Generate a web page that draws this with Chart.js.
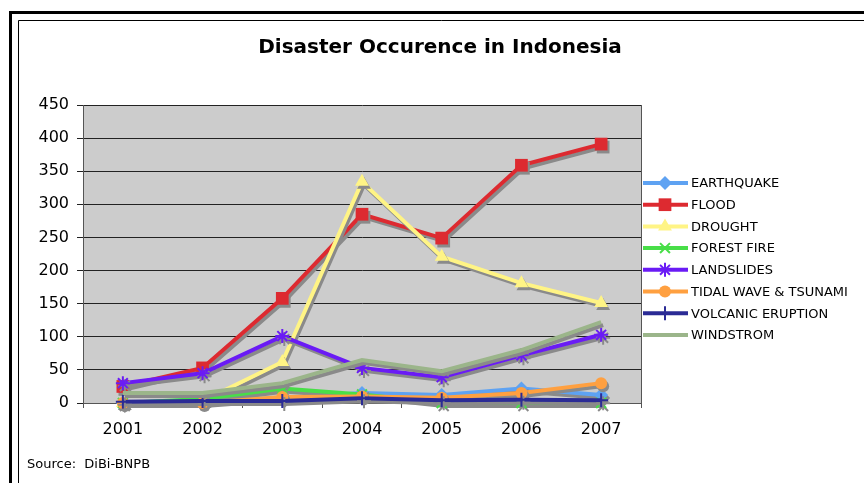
<!DOCTYPE html>
<html>
<head>
<meta charset="utf-8">
<script src="https://cdn.jsdelivr.net/npm/chart.js@4"></script>
<style>
  html, body { margin: 0; padding: 0; background: #fff; }
  #wrap { width: 864px; height: 483px; }
</style>
</head>
<body>
<div id="wrap"><canvas id="disasters" width="864" height="483"></canvas></div>
<script>
var years = ["2001", "2002", "2003", "2004", "2005", "2006", "2007"];
var earthquake = [0, 5, 7, 15, 12, 22, 12];
var flood = [25, 53, 158, 285, 249, 359, 391];
var drought = [0, 3, 62, 334, 221, 181, 151];
var forestFire = [0, 6, 22, 13, 0, 0, 0];
var landslides = [30, 45, 101, 53, 39, 72, 103];
var tidalWave = [0, 0, 9, 10, 8, 15, 30];
var volcanic = [2, 3, 3, 7, 4, 5, 4];
var windstrom = [15, 15, 30, 65, 48, 80, 122];

function series(label, values, color, style, radius, order) {
  // filled markers get no outline, line markers (star, crosses) need one
  var stroked = ["star", "cross", "crossRot"].indexOf(style) >= 0;
  return {
    label: label,
    data: values,
    borderColor: color,
    backgroundColor: color,
    pointBackgroundColor: color,
    pointBorderColor: color,
    pointStyle: style,
    pointRadius: radius,
    pointBorderWidth: stroked ? 2 : 0,
    borderWidth: 4,
    tension: 0,
    clip: false,
    order: order,
  };
}

const data_disasters = {
  labels: years,
  datasets: [
    series("EARTHQUAKE", earthquake, "#5ea2f2", "rectRot", 7, 7),
    series("FLOOD", flood, "#dd2a30", "rect", 9, 6),
    series("DROUGHT", drought, "#fff485", "triangle", 8, 5),
    series("FOREST FIRE", forestFire, "#48de48", "crossRot", 7, 4),
    series("LANDSLIDES", landslides, "#6a1bf5", "star", 7, 3),
    series("TIDAL WAVE & TSUNAMI", tidalWave, "#ffa040", "circle", 6, 2),
    series("VOLCANIC ERUPTION", volcanic, "#2b2b95", "cross", 7, 1),
    series("WINDSTROM", windstrom, "#9bb58a", "circle", 0, 0),
  ],
};

// frame, title, gray plot area, shadows, legend and source note
const decorations = {
  id: "decorations",
  beforeDraw(chart) {
    const ctx = chart.ctx;
    const a = chart.chartArea;
    ctx.save();
    ctx.fillStyle = "#fff";
    ctx.fillRect(0, 0, chart.width, chart.height);
    ctx.strokeStyle = "#000";
    ctx.lineWidth = 3;
    ctx.beginPath();
    ctx.moveTo(10.5, chart.height + 5);
    ctx.lineTo(10.5, 12.5);
    ctx.lineTo(chart.width + 5, 12.5);
    ctx.stroke();
    ctx.lineWidth = 1;
    ctx.beginPath();
    ctx.moveTo(18.5, chart.height + 5);
    ctx.lineTo(18.5, 20.5);
    ctx.lineTo(chart.width + 5, 20.5);
    ctx.stroke();
    ctx.fillStyle = "#cccccc";
    ctx.fillRect(a.left, a.top, a.right - a.left, a.bottom - a.top);
    ctx.fillStyle = "#000";
    ctx.font = "bold 20px 'DejaVu Sans'";
    ctx.textAlign = "center";
    ctx.textBaseline = "middle";
    ctx.fillText("Disaster Occurence in Indonesia", 440, 48);
    ctx.restore();
  },
  beforeDatasetsDraw(chart) {
    const ctx = chart.ctx;
    ctx.save();
    ctx.shadowColor = "#8a8a8a";
    ctx.shadowOffsetX = 2;
    ctx.shadowOffsetY = 3;
    ctx.shadowBlur = 0;
  },
  afterDatasetsDraw(chart) {
    chart.ctx.restore();
  },
  afterDraw(chart) {
    const ctx = chart.ctx;
    const a = chart.chartArea;
    ctx.save();
    ctx.strokeStyle = "#555";
    ctx.lineWidth = 1;
    ctx.beginPath();
    ctx.moveTo(Math.round(a.right) + 0.5, a.top);
    ctx.lineTo(Math.round(a.right) + 0.5, a.bottom);
    ctx.stroke();

    chart.data.datasets.forEach((ds, i) => {
      const y = 183 + i * 21.7;
      ctx.strokeStyle = ds.borderColor;
      ctx.lineWidth = 4;
      ctx.beginPath();
      ctx.moveTo(643, y);
      ctx.lineTo(688, y);
      ctx.stroke();
      if (ds.pointRadius > 0) {
        ctx.fillStyle = ds.pointBackgroundColor;
        ctx.strokeStyle = ds.pointBorderColor;
        ctx.lineWidth = ds.pointBorderWidth;
        Chart.helpers.drawPoint(ctx, {
          pointStyle: ds.pointStyle,
          radius: ds.pointRadius,
          borderWidth: ds.pointBorderWidth,
          rotation: 0,
        }, 665, y);
      }
      ctx.fillStyle = "#000";
      ctx.font = "13px 'DejaVu Sans'";
      ctx.textAlign = "left";
      ctx.textBaseline = "middle";
      ctx.fillText(ds.label, 691, y + 1);
    });

    ctx.font = "13px 'DejaVu Sans'";
    ctx.textAlign = "left";
    ctx.textBaseline = "middle";
    ctx.fillStyle = "#000";
    ctx.fillText("Source:  DiBi-BNPB", 27, 465);
    ctx.restore();
  },
};

const config_disasters = {
  type: "line",
  data: data_disasters,
  options: {
    responsive: false,
    animation: false,
    events: [],
    layout: {
      padding: { top: 105, right: 223, bottom: 40, left: 0 },
    },
    scales: {
      x: {
        offset: true,
        afterFit: (scale) => { scale.height = 40; },
        grid: {
          offset: true,
          drawOnChartArea: false,
          drawTicks: true,
          tickLength: 5,
          color: "#555",
        },
        border: { display: true, color: "#555" },
        ticks: {
          color: "#000",
          padding: 12,
          font: { family: "DejaVu Sans", size: 16 },
        },
      },
      y: {
        min: 0,
        max: 450,
        afterFit: (scale) => { scale.width = 83; },
        grid: {
          color: "#222",
          tickLength: 6,
        },
        border: { display: true, color: "#555" },
        ticks: {
          stepSize: 50,
          color: "#000",
          padding: 8,
          font: { family: "DejaVu Sans", size: 16 },
        },
      },
    },
    plugins: {
      legend: { display: false },
      title: { display: false },
      tooltip: { enabled: false },
    },
  },
  plugins: [decorations],
};

const disasters = new Chart(document.getElementById("disasters"), config_disasters);
</script>
</body>
</html>
